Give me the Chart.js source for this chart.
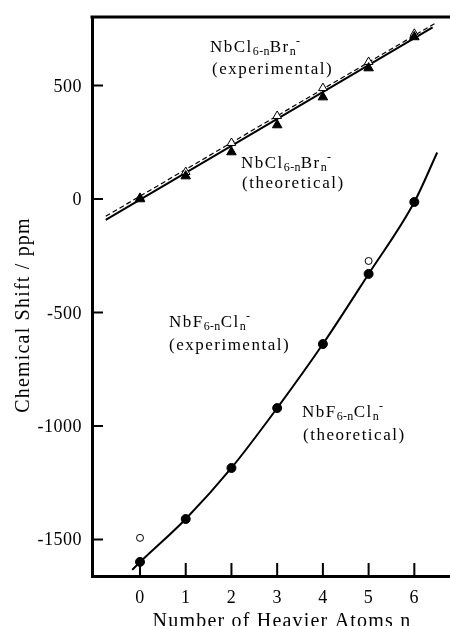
<!DOCTYPE html>
<html lang="en">
<head>
<meta charset="UTF-8">
<title>Chemical Shift vs n</title>
<style>
  html, body { margin: 0; padding: 0; background: #fff; }
  #chemChart { display: block; }
</style>
</head>
<body>
<canvas id="chemChart" width="450" height="626"></canvas>

<script src="https://cdn.jsdelivr.net/npm/chart.js"></script>
<script>
// values
const nValues = [0, 1, 2, 3, 4, 5, 6];
const brFilled = [0, 101, 207, 326, 449, 577, 714];
const brOpen = [5, 119, 247, 366, 489, 604, 728];
const fFilled = [-1599, -1410, -1185, -921, -639, -330, -13];
const fOpenN = [0, 5];
const fOpen = [-1493, -273];

// fitted lines (end points) and the smooth curve
const brSolidX = [-0.75, 6.4];
const brSolidY = [-92, 756];
const brDashX = [-0.75, 6.47];
const brDashY = [-76, 776];
const fCurveX = [-0.17, 0, 1, 2, 3, 4, 5, 6, 6.5];
const fCurveY = [-1634, -1600, -1410, -1185, -921, -639, -330, -13, 205];

const xTicks = [0, 1, 2, 3, 4, 5, 6];
const yTicks = [-1500, -1000, -500, 0, 500];

const SERIF = '"Liberation Serif", "DejaVu Serif", serif';

function pts(xs, ys) {
    return xs.map((x, i) => ({ x: x, y: ys[i] }));
}

// label parts: sub = subscript, sup = superscript
const labels = [
    { x: 210, y: 52, parts: [['NbCl'], ['6-n', 'sub'], ['Br'], ['n', 'sub'], ['-', 'sup']] },
    { x: 212, y: 74, parts: [['(experimental)']] },
    { x: 241, y: 168, parts: [['NbCl'], ['6-n', 'sub'], ['Br'], ['n', 'sub'], ['-', 'sup']] },
    { x: 242, y: 188, parts: [['(theoretical)']] },
    { x: 169, y: 327, parts: [['NbF'], ['6-n', 'sub'], ['Cl'], ['n', 'sub'], ['-', 'sup']] },
    { x: 169, y: 350, parts: [['(experimental)']] },
    { x: 302, y: 417, parts: [['NbF'], ['6-n', 'sub'], ['Cl'], ['n', 'sub'], ['-', 'sup']] },
    { x: 303, y: 440, parts: [['(theoretical)']] }
];

// axes, inward ticks, tick labels and the text of the figure
const framePlugin = {
    id: 'frame',
    afterDraw(chart) {
        const ctx = chart.ctx;
        const area = chart.chartArea;
        const xs = chart.scales.x;
        const ys = chart.scales.y;
        ctx.save();
        ctx.strokeStyle = '#000';

        // top border
        ctx.lineWidth = 3;
        ctx.beginPath();
        ctx.moveTo(area.left - 1.5, area.top);
        ctx.lineTo(chart.width, area.top);
        ctx.stroke();

        // inward tick marks
        ctx.lineWidth = 2;
        ctx.beginPath();
        yTicks.forEach(v => {
            const py = ys.getPixelForValue(v);
            ctx.moveTo(area.left, py);
            ctx.lineTo(area.left + 11, py);
        });
        xTicks.forEach(v => {
            const px = xs.getPixelForValue(v);
            ctx.moveTo(px, area.bottom);
            ctx.lineTo(px, area.bottom - 13);
        });
        ctx.stroke();

        // tick labels
        ctx.fillStyle = '#000';
        ctx.font = '18px ' + SERIF;
        ctx.textBaseline = 'alphabetic';
        ctx.letterSpacing = '0.5px';
        ctx.textAlign = 'right';
        yTicks.forEach(v => {
            ctx.fillText(String(v), area.left - 10, ys.getPixelForValue(v) + 6);
        });
        ctx.textAlign = 'center';
        xTicks.forEach(v => {
            ctx.fillText(String(v), xs.getPixelForValue(v), 603);
        });

        // annotations
        ctx.textAlign = 'left';
        labels.forEach(l => {
            let cx = l.x;
            l.parts.forEach(p => {
                let size = 17, dy = 0;
                if (p[1] === 'sub') { size = 12; dy = 3; }
                if (p[1] === 'sup') { size = 12; dy = -7; }
                ctx.font = size + 'px ' + SERIF;
                ctx.letterSpacing = (p[1] ? 0.3 : 1.5) + 'px';
                ctx.fillText(p[0], cx, l.y + dy);
                cx += ctx.measureText(p[0]).width;
            });
        });

        // axis titles
        ctx.font = '20px ' + SERIF;
        ctx.letterSpacing = '1.2px';
        ctx.textAlign = 'center';
        ctx.fillText('Number of Heavier Atoms n', 282, 627);

        ctx.translate(29, 315);
        ctx.rotate(-Math.PI / 2);
        ctx.fillText('Chemical Shift / ppm', 0, 0);
        ctx.restore();
    }
};

new Chart(document.getElementById('chemChart'), {
    type: 'scatter',
    data: {
        datasets: [{
            data: pts(nValues, brFilled),
            pointStyle: 'triangle',
            pointRadius: 5.5,
            backgroundColor: '#000',
            borderColor: '#000',
            borderWidth: 1
        }, {
            data: pts(nValues, brOpen),
            pointStyle: 'triangle',
            pointRadius: 5,
            backgroundColor: '#fff',
            borderColor: '#000',
            borderWidth: 1
        }, {
            data: pts(nValues, fFilled),
            pointStyle: 'circle',
            pointRadius: 4.5,
            backgroundColor: '#000',
            borderColor: '#000',
            borderWidth: 1
        }, {
            data: pts(fOpenN, fOpen),
            pointStyle: 'circle',
            pointRadius: 3.5,
            backgroundColor: '#fff',
            borderColor: '#000',
            borderWidth: 1
        }, {
            data: pts(brSolidX, brSolidY),
            showLine: true,
            pointRadius: 0,
            borderColor: '#000',
            borderWidth: 2
        }, {
            data: pts(brDashX, brDashY),
            showLine: true,
            pointRadius: 0,
            borderColor: '#000',
            borderWidth: 1.2,
            borderDash: [5, 3]
        }, {
            data: pts(fCurveX, fCurveY),
            showLine: true,
            pointRadius: 0,
            borderColor: '#000',
            borderWidth: 2,
            cubicInterpolationMode: 'monotone'
        }]
    },
    options: {
        responsive: false,
        animation: false,
        devicePixelRatio: 1,
        layout: { autoPadding: false, padding: { top: 17, right: 0, left: 0, bottom: 0 } },
        plugins: {
            legend: { display: false },
            tooltip: { enabled: false }
        },
        scales: {
            x: {
                type: 'linear',
                min: -1.05,
                max: 6.78,
                afterFit(scale) { scale.height = 50; },
                afterBuildTicks(scale) { scale.ticks = xTicks.map(v => ({ value: v })); },
                border: { display: true, color: '#000', width: 3 },
                grid: { display: false, drawTicks: false },
                ticks: { display: false }
            },
            y: {
                type: 'linear',
                min: -1661,
                max: 802,
                afterFit(scale) { scale.width = 92; },
                afterBuildTicks(scale) { scale.ticks = yTicks.map(v => ({ value: v })); },
                border: { display: true, color: '#000', width: 3 },
                grid: { display: false, drawTicks: false },
                ticks: { display: false }
            }
        }
    },
    plugins: [framePlugin]
});
</script>
</body>
</html>
